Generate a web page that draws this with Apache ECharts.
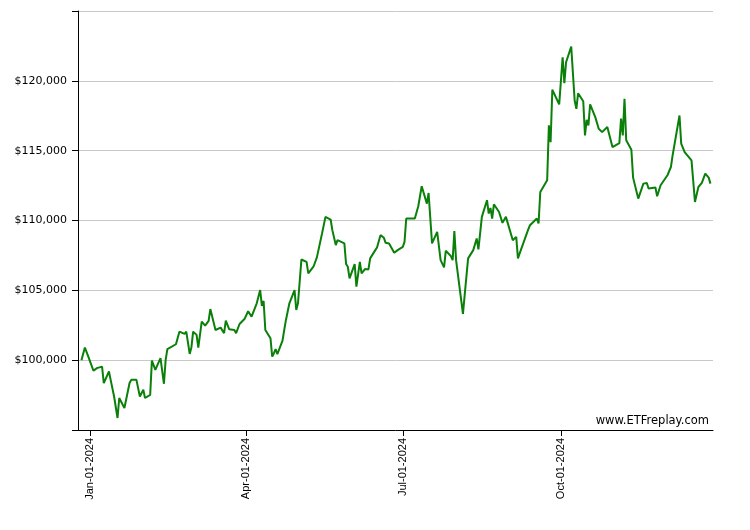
<!DOCTYPE html>
<html>
<head>
<meta charset="utf-8">
<script src="https://cdn.jsdelivr.net/npm/echarts@6/dist/echarts.min.js"></script>
<style>html,body{margin:0;padding:0;background:#fff}#chart{width:750px;height:530px}</style>
</head>
<body>
<div id="chart"></div>
<script>
var dates = [
'2023-12-27','2023-12-29','2023-12-31','2024-01-03','2024-01-05','2024-01-08','2024-01-09','2024-01-10','2024-01-12','2024-01-13',
'2024-01-15','2024-01-17','2024-01-18','2024-01-21','2024-01-24','2024-01-25','2024-01-28','2024-01-30','2024-01-31','2024-02-01',
'2024-02-02','2024-02-05','2024-02-06','2024-02-08','2024-02-09','2024-02-11','2024-02-13','2024-02-14','2024-02-15','2024-02-20',
'2024-02-22','2024-02-25','2024-02-26','2024-02-28','2024-02-29','2024-03-01','2024-03-03','2024-03-04','2024-03-06','2024-03-08',
'2024-03-10','2024-03-11','2024-03-14','2024-03-17','2024-03-19','2024-03-20','2024-03-21','2024-03-22','2024-03-25','2024-03-26',
'2024-03-28','2024-03-31','2024-04-02','2024-04-04','2024-04-07','2024-04-09','2024-04-10','2024-04-11','2024-04-12','2024-04-15',
'2024-04-16','2024-04-17','2024-04-18','2024-04-19','2024-04-22','2024-04-23','2024-04-24','2024-04-26','2024-04-29','2024-04-30',
'2024-05-01','2024-05-03','2024-05-06','2024-05-07','2024-05-08','2024-05-10','2024-05-12','2024-05-15','2024-05-17','2024-05-20',
'2024-05-21','2024-05-23','2024-05-24','2024-05-28','2024-05-29','2024-05-30','2024-05-31','2024-06-03','2024-06-04','2024-06-06',
'2024-06-07','2024-06-09','2024-06-11','2024-06-12','2024-06-13','2024-06-15','2024-06-16','2024-06-18','2024-06-20','2024-06-21',
'2024-06-23','2024-06-26','2024-06-27','2024-06-28','2024-07-01','2024-07-02','2024-07-03','2024-07-08','2024-07-10','2024-07-12',
'2024-07-15','2024-07-16','2024-07-18','2024-07-21','2024-07-23','2024-07-25','2024-07-26','2024-07-29','2024-07-30','2024-07-31',
'2024-08-01','2024-08-05','2024-08-06','2024-08-08','2024-08-11','2024-08-13','2024-08-14','2024-08-16','2024-08-19','2024-08-20',
'2024-08-21','2024-08-22','2024-08-23','2024-08-26','2024-08-27','2024-08-28','2024-08-30','2024-09-03','2024-09-05','2024-09-06',
'2024-09-07','2024-09-12','2024-09-13','2024-09-17','2024-09-18','2024-09-19','2024-09-20','2024-09-23','2024-09-24','2024-09-25',
'2024-09-26','2024-09-27','2024-09-30','2024-10-02','2024-10-03','2024-10-04','2024-10-07','2024-10-09','2024-10-10','2024-10-11',
'2024-10-14','2024-10-15','2024-10-16','2024-10-17','2024-10-18','2024-10-21','2024-10-22','2024-10-23','2024-10-25','2024-10-28',
'2024-10-31','2024-11-01','2024-11-04','2024-11-05','2024-11-06','2024-11-07','2024-11-08','2024-11-11','2024-11-12','2024-11-15',
'2024-11-18','2024-11-20','2024-11-21','2024-11-25','2024-11-26','2024-11-28','2024-12-02','2024-12-04','2024-12-05','2024-12-06',
'2024-12-09','2024-12-10','2024-12-11','2024-12-12','2024-12-13','2024-12-16','2024-12-18','2024-12-20','2024-12-22','2024-12-24',
'2024-12-26','2024-12-27'
];
var values = [
100000,100900,100260,99240,99430,99540,98360,98290,99190,98590,
97400,95860,97290,96570,98360,98590,98590,97400,97290,97880,
97290,97520,99970,99310,99590,100140,98310,100020,100790,101140,
102040,101880,102040,100450,100930,102040,101810,100900,102760,102470,
102810,103660,102160,102330,101930,102830,102830,102210,102160,101930,
102590,102970,103500,103110,104070,105020,103880,104240,102160,101570,
100260,100500,100790,100430,101400,102160,102880,104070,105020,103590,
104070,107210,107040,106210,106090,106690,107360,109070,110260,110070,
109310,108240,108590,108360,106880,106690,105860,106880,105260,107040,
106210,106520,106500,107290,107290,107880,108070,108950,108760,108400,
108360,107690,107640,107880,108110,108470,110140,110140,111020,112450,
111210,111970,108360,109190,107160,106640,107830,107450,107160,109240,
107160,103310,104660,107290,107880,108710,107930,110260,111450,110500,
110900,110140,111160,110610,110500,109830,110260,108590,108830,107290,
107640,109360,109660,110140,109790,112040,111970,112880,116810,115610,
119360,119310,118310,121690,119830,121330,122450,118590,118000,119110,
118540,116090,117210,116810,118310,117400,117290,116570,116330,116690,
115260,115160,115540,117290,116090,118710,115740,115070,113070,111570,
112640,112690,112290,112360,111740,112520,113240,113830,114660,114710,
117520,115500,115570,114900,114900,114310,111330,112400,112690,113360,
113070,112640
];
var yTicks = [95000,100000,105000,110000,115000,120000,125000];
var xTickDates = ['2024-01-01','2024-04-01','2024-07-01','2024-10-01'];
var monthNames = ['Jan','Feb','Mar','Apr','May','Jun','Jul','Aug','Sep','Oct','Nov','Dec'];

function toTs(s){ var p = s.split('-'); return +new Date(+p[0], +p[1]-1, +p[2]); }
function fmtDate(ts){
  var d = new Date(ts);
  var dd = d.getDate(); dd = dd < 10 ? '0' + dd : '' + dd;
  return monthNames[d.getMonth()] + '-' + dd + '-' + d.getFullYear();
}
function fmtMoney(v){
  return '$' + String(v).replace(/\B(?=(\d{3})+(?!\d))/g, ',');
}

var chart = echarts.init(document.getElementById('chart'), null, {renderer:'canvas'});
var xTicks = xTickDates.map(toTs);
var option = {
  animation: false,
  backgroundColor: '#fff',
  grid: { left: 78, right: 37, top: 11, bottom: 100 },
  xAxis: {
    type: 'value',
    min: +new Date(2023, 11, 25),
    max: +new Date(2024, 11, 28, 12),
    axisLine: { show: true, lineStyle: { color: '#000', width: 1 } },
    axisTick: { show: true, length: 6, customValues: xTicks, lineStyle: { color: '#000' } },
    axisLabel: {
      show: true, customValues: xTicks, rotate: 90, margin: 8,
      fontFamily: 'Liberation Sans', fontSize: 11, color: '#000',
      formatter: function(v){ return fmtDate(v); }
    },
    splitLine: { show: false }
  },
  yAxis: {
    type: 'value',
    min: 95000, max: 125000, interval: 5000,
    axisLine: { show: true, lineStyle: { color: '#000', width: 1 } },
    axisTick: { show: true, length: 6, lineStyle: { color: '#000' } },
    axisLabel: {
      margin: 11, fontFamily: 'DejaVu Sans', fontSize: 11, color: '#000',
      formatter: function(v){ return (v === yTicks[0] || v === yTicks[yTicks.length-1]) ? '' : fmtMoney(v); }
    },
    splitLine: { show: true, lineStyle: { color: '#c8c8c8', width: 1 } }
  },
  graphic: [{
    type: 'text', right: 41, top: 415,
    style: { text: 'www.ETFreplay.com', font: '11.5px "DejaVu Sans"', fill: '#000' }
  }],
  series: [{
    type: 'line',
    data: dates.map(function(d, i){ return [toTs(d), values[i]]; }),
    showSymbol: false,
    symbol: 'none',
    lineStyle: { color: '#0a800a', width: 2 },
    itemStyle: { color: '#0a800a' }
  }]
};
chart.setOption(option);
</script>
</body>
</html>
